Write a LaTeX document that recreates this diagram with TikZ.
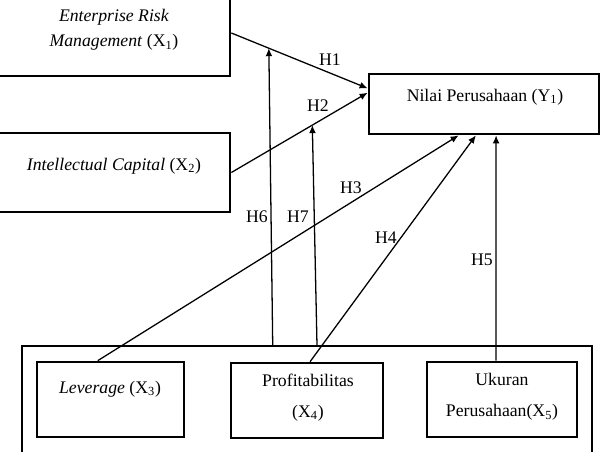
\documentclass[tikz,border=0pt]{standalone}
\usepackage{fontspec}
\setmainfont{Liberation Serif}
\usetikzlibrary{arrows.meta,positioning,calc,fit}

\begin{document}
\begin{tikzpicture}[x=0.7pt,y=-0.7pt,
  font=\fontsize{12.4}{15}\selectfont,
  box/.style={draw,line width=1.9pt,inner sep=0pt},
  grupbox/.style={draw,line width=0.9pt,inner sep=0pt},
  link/.style={line width=0.9pt,-{Latex[length=5.6pt,width=4.8pt]}},
  plain/.style={line width=0.9pt},
  hyp/.style={inner sep=0pt},
  twoline/.style={align=center,font=\fontsize{12.4}{21.7}\selectfont}]
\useasboundingbox (0,0) rectangle (600,451);
\clip (0,0) rectangle (600,451);

% Variable boxes
\node[box,fit={(-10,-10) (230,76)}] (erm) {};
\node[box,fit={(-10,133) (230,212)}] (ic) {};
\node[box,fit={(369,74) (599,134)}] (nilai) {};
\node[grupbox,fit={(22,346) (592,470)}] (grup) {};
\node[box,fit={(37,362) (184,437)}] (lev) {};
\node[box,fit={(231,363) (383,438)}] (prof) {};
\node[box,fit={(427,362) (577,437)}] (ukuran) {};

% Box texts
\node[align=center,font=\fontsize{12.4}{17.5}\selectfont] (ermtext) at (114,30)
  {\textit{Enterprise Risk}\\\textit{Management} (X\textsubscript{1})};
\node (ictext) at (114,166) {\textit{Intellectual Capital} (X\textsubscript{2})};
\node (nilaitext) at (485,97) {Nilai Perusahaan (Y\textsubscript{1})};
\node (levtext) at (110,389) {\textit{Leverage} (X\textsubscript{3})};
\node[twoline] (proftext) at (308,397.5) {Profitabilitas\\(X\textsubscript{4})};
\node[twoline] (ukurantext) at (502,397) {Ukuran\\Perusahaan(X\textsubscript{5})};

% Connector end points
\coordinate (h1in) at ($(nilai.north west)!0.25!(nilai.south west)$);
\coordinate (h2in) at ($(nilai.north west)!0.32!(nilai.south west)$);
\coordinate (h3in) at ($(nilai.south west)!0.391!(nilai.south east)$);
\coordinate (h4in) at ($(nilai.south west)!0.465!(nilai.south east)$);
\coordinate (h5in) at ($(nilai.south west)!0.552!(nilai.south east)$);
\path (erm.east) -- (h1in) coordinate[pos=0.275] (h6in);
\path (ic.east) -- (h2in) coordinate[pos=0.594] (h7in);

% Hypothesis paths
\draw[link] (erm.east) -- (h1in);
\draw[link] (ic.east) -- (h2in);
\draw[link] ($(lev.north west)!0.415!(lev.north east)$) -- (h3in);
\draw[link] ($(prof.north west)!0.52!(prof.north east)$) -- (h4in);
\draw[link] ($(ukuran.north west)!0.46!(ukuran.north east)$) -- (h5in);
\draw[link] ($(grup.north west)!0.44!(grup.north east)$) -- (h6in);
\draw[link] ($(grup.north west)!0.5175!(grup.north east)$) -- (h7in);

% Hypothesis labels
\node[hyp] (H1) at (330,60) {H1};
\node[hyp] (H2) at (318,106) {H2};
\node[hyp] (H3) at (351,188) {H3};
\node[hyp] (H4) at (386,238) {H4};
\node[hyp] (H5) at (482,260) {H5};
\node[hyp] (H6) at (257,217) {H6};
\node[hyp] (H7) at (298,217) {H7};
\end{tikzpicture}
\end{document}
